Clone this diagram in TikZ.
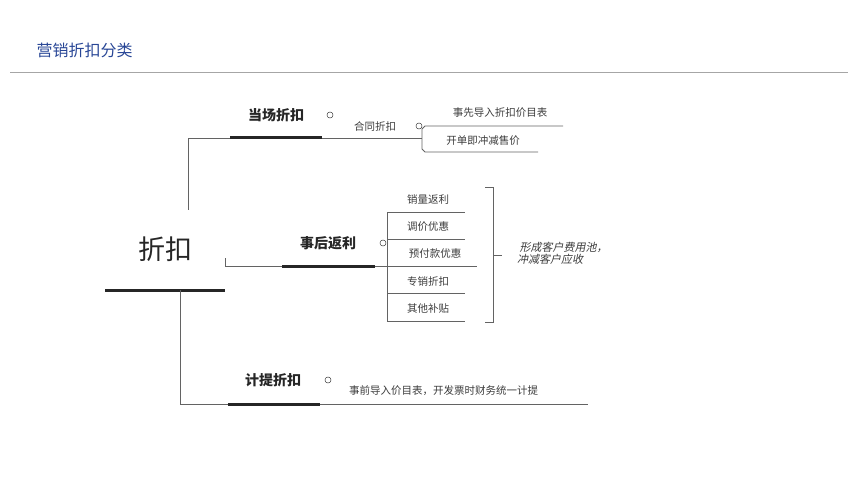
\documentclass[tikz,border=0pt]{standalone}
\usepackage{fontspec}
\setmainfont{Noto Sans CJK SC}
\usetikzlibrary{calc}
\definecolor{titleblue}{RGB}{40,70,150}
\definecolor{ink}{RGB}{60,60,60}
\tikzset{
  thinline/.style={draw=ink!80,line width=0.8pt},
  thickbar/.style={draw=black!85,line width=3pt},
  main/.style={font=\bfseries\fontsize{14}{16}\selectfont,text=black!85},
  leaf/.style={font=\fontsize{10.5}{12}\selectfont,text=ink,inner sep=1pt},
  knob/.style={circle,draw=ink,line width=0.5pt,minimum size=6pt,inner sep=0pt}
}
\begin{document}
\begin{tikzpicture}[x=1pt,y=-1pt]
\useasboundingbox (0,0) rectangle (860,484);
%title
\node[anchor=west,text=titleblue,font=\fontsize{16}{18}\selectfont] (title) at (33,50) {营销折扣分类};
\draw[gray!70,line width=0.6pt] (10,72) -- (848,72);
%root
\node[font=\fontsize{27}{30}\selectfont,text=black!85] (root) at (165,249) {折扣};
\draw[thickbar] (105,290) -- (225,290);
%top branch
\draw[thinline] (188,210) -- (188,138) -- (422,138);
\draw[thickbar] (230,138) -- (322,138);
\node[main] (b1) at (276,115) {当场折扣};
\node[knob] (k1) at (330,115) {};
\node[leaf] (c1) at (375,127) {合同折扣};
\node[knob] (k2) at (419,126) {};
\draw[thinline] (563,126) -- (425,126) -- (422,129) -- (422,149) -- (425,152) -- (538,152);
\node[leaf] (d1) at (500,113) {事先导入折扣价目表};
\node[leaf] (d2) at (483,141) {开单即冲减售价};
%middle branch
\draw[thinline] (225,258) -- (225,266) -- (477,266);
\draw[thickbar] (282,266) -- (375,266);
\node[main] (b2) at (328,243) {事后返利};
\node[knob] (k3) at (383,243) {};
\draw[thinline] (387,212) -- (387,321);
\foreach \y/\e in {212/465,239/465,293/465,321/465}
  \draw[thinline] (387,\y) -- (\e,\y);
\foreach \t/\y/\x in {销量返利/200/428,调价优惠/227/428,预付款优惠/254/435,专销折扣/282/428,其他补贴/309/428}
  \node[leaf] at (\x,\y) {\t};
\draw[thinline] (485,187) -- (493,187) -- (493,322) -- (485,322);
\draw[thinline] (493,255) -- (502,255);
\node[leaf,anchor=west,align=left,font=\itshape\fontsize{11}{12}\selectfont,xslant=0.2] (note) at (518,253) {形成客户费用池，\\冲减客户应收};
%bottom branch
\draw[thinline] (180,290) -- (180,404) -- (588,404);
\draw[thickbar] (228,404) -- (320,404);
\node[main] (b3) at (273,380) {计提折扣};
\node[knob] (k4) at (328,380) {};
\node[leaf,anchor=west] (e1) at (348,391) {事前导入价目表，开发票时财务统一计提};
\end{tikzpicture}
\end{document}
